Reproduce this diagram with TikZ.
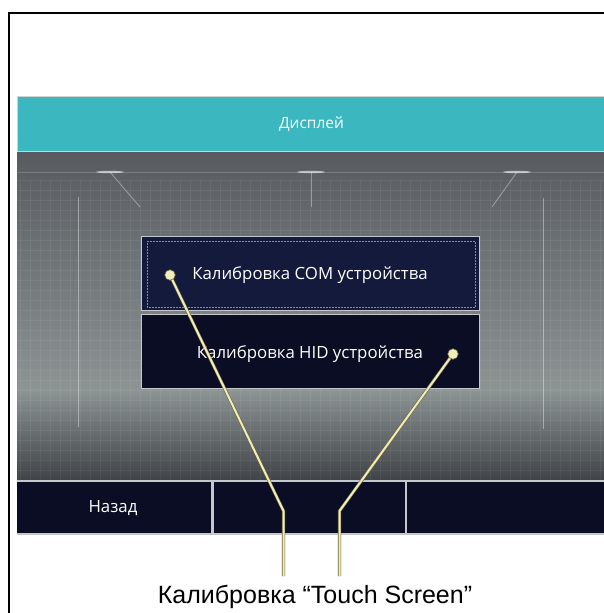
\documentclass[tikz,border=0pt]{standalone}
\usepackage{fontspec}
\setmainfont{Liberation Sans}
\newfontfamily\uifont{Open Sans}
\usetikzlibrary{calc}
\pgfdeclarelayer{front}
\pgfsetlayers{main,front}
\definecolor{tealbar}{HTML}{3AB7BF}
\definecolor{navyA}{HTML}{131A3C}
\definecolor{navyB}{HTML}{0B0D25}
\definecolor{frameline}{HTML}{C4C8CC}
\definecolor{pale}{HTML}{F2EDB8}
\definecolor{paleedge}{HTML}{6E6840}
\definecolor{bgtop}{HTML}{575A5F}
\definecolor{bgmid}{HTML}{8C9494}
\definecolor{bgbot}{HTML}{404347}
\tikzset{
  menubtn/.style={draw=frameline, line width=1.4pt, anchor=north west, inner sep=0pt, minimum width=338pt, minimum height=74pt},
  barbtn/.style={fill=navyB, anchor=north west, inner sep=0pt, minimum height=51pt},
  uitext/.style={text=white, font=\uifont\fontsize{16.8}{20}\selectfont, inner sep=0pt},
  dotmark/.style={circle, fill=pale, draw=paleedge, line width=0.6pt, inner sep=0pt, minimum size=10.5pt},
  callout/.style={draw=paleedge, line width=0.6pt, double=pale, double distance=2pt},
  glowline/.style={draw=white, opacity=0.35, line width=0.9pt},
}
\begin{document}
\begin{tikzpicture}[x=1pt,y=-1pt]
\useasboundingbox (0,0) rectangle (604,613);
\fill[white] (0,0) rectangle (604,613);
% outer frame
\draw[line width=2pt] (8.5,613) -- (8.5,12.5) -- (604,12.5);
% background of the screen
\shade[top color=bgtop, bottom color=bgmid] (17,151) rectangle (604,390);
\shade[top color=bgmid, bottom color=bgbot] (17,389.5) rectangle (604,480);
% faint grid
\foreach \gx in {20,30,...,600} \draw[white, opacity=0.06, line width=0.5pt] (\gx,180) -- (\gx,480);
\foreach \gy in {180,190,...,480} \draw[white, opacity=0.06, line width=0.5pt] (17,\gy) -- (604,\gy);
% decorative glow lines
\draw[white, opacity=0.18, line width=0.8pt] (17,172) -- (604,172);
\draw[glowline] (110,172) -- (140,207);
\draw[glowline] (311,172) -- (311,207);
\draw[glowline] (517,172) -- (492,207);
\fill[white, opacity=0.6] (110,172) ellipse (14pt and 1.2pt);
\fill[white, opacity=0.6] (311,172) ellipse (14pt and 1.2pt);
\fill[white, opacity=0.6] (517,172) ellipse (14pt and 1.2pt);
\draw[white, opacity=0.4, line width=0.9pt] (78,197) -- (78,427);
\draw[white, opacity=0.4, line width=0.9pt] (543,198) -- (543,429);
% title bar
\node (titlebar) [fill=tealbar, draw=frameline!80!white, line width=1pt, anchor=north west, inner sep=0pt, minimum width=587pt, minimum height=55pt] at (17,96) {};
\node (title) [text=white, font=\uifont\fontsize{15.5}{18}\selectfont, inner sep=0pt] at (311.5,124) {Дисплей};
% menu buttons
\node (btncom) [menubtn, fill=navyA] at (141,236) {};
\draw[frameline!70!black, densely dotted, line width=0.5pt] (147,241) rectangle (475,307);
\node (txtcom) [uitext] at (310,275) {Калибровка COM устройства};
\node (btnhid) [menubtn, fill=navyB] at (141,314) {};
\node (txthid) [uitext] at (310,354) {Калибровка HID устройства};
% bottom bar
\fill[frameline] (17,480) rectangle (604,535);
\node (back) [barbtn, minimum width=194pt] at (17,482) {};
\node (mid) [barbtn, minimum width=191pt] at (213.5,482) {};
\node (right) [barbtn, minimum width=198pt] at (406.5,482) {};
\node (backtxt) [uitext] at (113,508) {Назад};
% callouts
\begin{pgfonlayer}{front}
\node (dotcom) [dotmark] at (170,275) {};
\node (dothid) [dotmark] at (453,354) {};
\end{pgfonlayer}
\coordinate (bendcom) at (283.5,511);
\coordinate (bendhid) at (339.5,511);
\coordinate (endcom) at (283.5,576);
\coordinate (endhid) at (339.5,576);
\draw[callout] (dotcom.center) -- (bendcom) -- (endcom);
\draw[callout] (dothid.center) -- (bendhid) -- (endhid);
\node (label) [anchor=base, inner sep=0pt, font=\fontsize{25}{30}\selectfont] at (315,603) {Калибровка “Touch Screen”};
\end{tikzpicture}
\end{document}
